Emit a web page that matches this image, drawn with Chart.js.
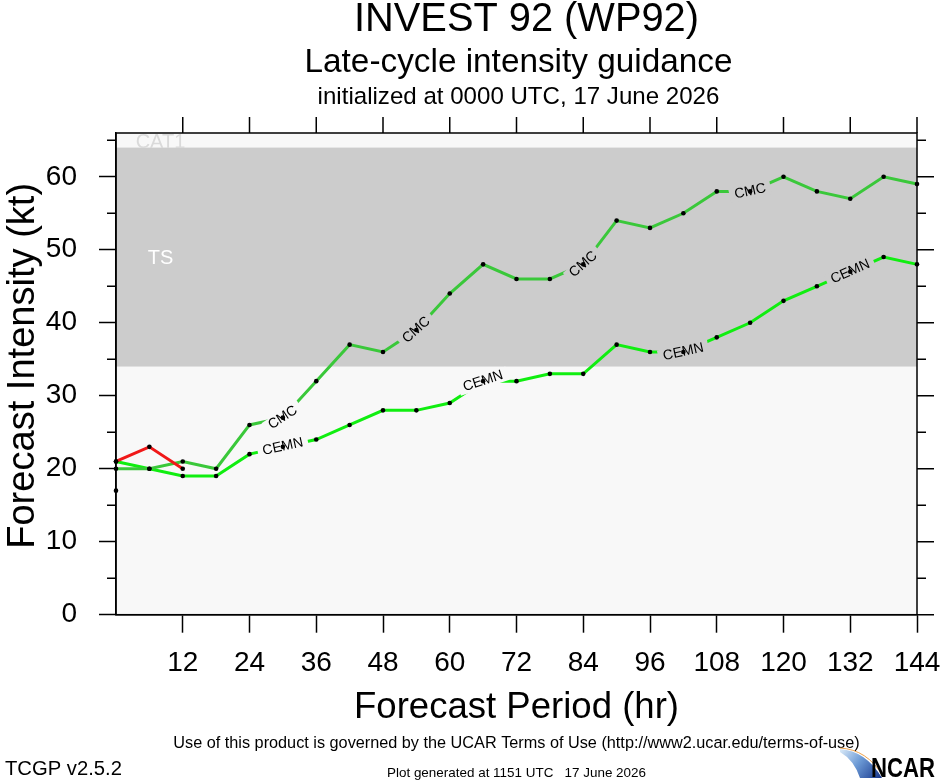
<!DOCTYPE html>
<html>
<head>
<meta charset="utf-8">
<title>INVEST 92 (WP92) - Late-cycle intensity guidance</title>
<script src="https://cdn.jsdelivr.net/npm/chart.js@4.4.1/dist/chart.umd.min.js"></script>
<style>
  html, body { margin: 0; padding: 0; background: #ffffff; }
  #wrap { width: 940px; height: 780px; }
</style>
</head>
<body>
<div id="wrap"><canvas id="intensityChart" width="940" height="780"></canvas></div>
<script>
// forecast hours and model intensities (kt)
const forecastHours = [0, 6, 12, 18, 24, 30, 36, 42, 48, 54, 60, 66, 72, 78, 84, 90, 96, 102, 108, 114, 120, 126, 132, 138, 144];
const cmcValues  = [20, 20, 21, 20, 26, 27, 32, 37, 36, 39, 44, 48, 46, 46, 48, 54, 53, 55, 58, 58, 60, 58, 57, 60, 59];
const cemnValues = [21, 20, 19, 19, 22, 23, 24, 26, 28, 28, 29, 32, 32, 33, 33, 37, 36, 36, 38, 40, 43, 45, 47, 49, 48];
const redHours  = [0, 6, 12];
const redValues = [21, 23, 20];
const initHours  = [0];
const initValues = [17];

// where the inline model names sit
const cmcLabelHours  = [30, 54, 84, 114];
const cemnLabelHours = [30, 66, 102, 132];

// axes
const xTickValues = [12, 24, 36, 48, 60, 72, 84, 96, 108, 120, 132, 144];
const yTickValues = [0, 10, 20, 30, 40, 50, 60];
const yMinorTicks = [5, 15, 25, 35, 45, 55, 65];

// intensity categories (kt)
const categoryLimits = [34, 64];
const categoryNames = ["TS", "CAT1"];

const FAMILY = '"Liberation Sans", Arial, Helvetica, sans-serif';
Chart.defaults.font.family = FAMILY;
Chart.defaults.color = "#000";

function toPoints(xs, ys) {
  return xs.map((x, i) => ({ x: x, y: ys[i] }));
}

// font size that makes text fill a given width
function fitSize(ctx, text, width, weight) {
  ctx.font = (weight || "normal") + " 100px " + FAMILY;
  return (100 * width) / ctx.measureText(text).width;
}

function drawFitted(ctx, text, x, y, width, align, weight) {
  const size = fitSize(ctx, text, width, weight);
  ctx.font = (weight || "normal") + " " + size.toFixed(2) + "px " + FAMILY;
  ctx.textAlign = align || "center";
  ctx.textBaseline = "alphabetic";
  ctx.fillText(text, x, y);
}

const guidancePlugin = {
  id: "guidance",
  beforeDraw(chart) {
    const { ctx, chartArea: a, scales } = chart;
    const ys = scales.y, xs = scales.x;
    ctx.save();
    ctx.fillStyle = "#ffffff";
    ctx.fillRect(0, 0, chart.width, chart.height);
    ctx.fillStyle = "#f8f8f8";
    ctx.fillRect(a.left, a.top, a.right - a.left, a.bottom - a.top);
    const yLo = ys.getPixelForValue(categoryLimits[0]);
    const yHi = ys.getPixelForValue(categoryLimits[1]);
    ctx.fillStyle = "#cccccc";
    ctx.fillRect(a.left, yHi, a.right - a.left, yLo - yHi);

    ctx.beginPath();
    ctx.rect(a.left, a.top, a.right - a.left, a.bottom - a.top);
    ctx.clip();
    ctx.font = "20px " + FAMILY;
    ctx.textAlign = "center";
    ctx.textBaseline = "alphabetic";
    ctx.fillStyle = "#ffffff";
    ctx.fillText(categoryNames[0], xs.getPixelForValue(8), ys.getPixelForValue(48));
    ctx.fillStyle = "#dadada";
    ctx.fillText(categoryNames[1], xs.getPixelForValue(8), ys.getPixelForValue(64) + 0.5);
    ctx.restore();
  },
  afterDatasetsDraw(chart) {
    const { ctx } = chart;
    const labelled = [
      { index: 1, name: "CMC", hours: cmcLabelHours, values: cmcValues },
      { index: 2, name: "CEMN", hours: cemnLabelHours, values: cemnValues },
    ];
    ctx.save();
    ctx.font = "14px " + FAMILY;
    ctx.textAlign = "center";
    ctx.textBaseline = "middle";
    labelled.forEach((set) => {
      const pts = chart.getDatasetMeta(set.index).data;
      set.hours.forEach((h) => {
        const i = forecastHours.indexOf(h);
        const p = pts[i], prev = pts[i - 1], next = pts[i + 1];
        const angle = Math.atan2(next.y - prev.y, next.x - prev.x);
        const v = set.values[i];
        const inBand = v >= categoryLimits[0] && v < categoryLimits[1];
        const w = ctx.measureText(set.name).width + 10;
        ctx.save();
        ctx.translate(p.x, p.y);
        ctx.rotate(angle);
        ctx.fillStyle = inBand ? "#cccccc" : "#f8f8f8";
        ctx.fillRect(-w / 2, -7, w, 14);
        ctx.fillStyle = "#000";
        ctx.fillText(set.name, 0, 0);
        ctx.restore();
      });
    });
    // black dots on every forecast point
    ctx.fillStyle = "#000";
    chart.data.datasets.forEach((ds, di) => {
      chart.getDatasetMeta(di).data.forEach((p) => {
        ctx.beginPath();
        ctx.arc(p.x, p.y, 2.3, 0, Math.PI * 2);
        ctx.fill();
      });
    });
    ctx.restore();
  },
  afterDraw(chart) {
    const { ctx, chartArea: a, scales } = chart;
    const xs = scales.x, ys = scales.y;
    const cx = (a.left + a.right) / 2;
    ctx.save();
    ctx.strokeStyle = "#000";
    ctx.lineWidth = 1.5;
    ctx.strokeRect(a.left, a.top, a.right - a.left, a.bottom - a.top);

    ctx.beginPath();
    xTickValues.forEach((v) => {
      const x = xs.getPixelForValue(v);
      ctx.moveTo(x, a.top);
      ctx.lineTo(x, a.top - 16);
    });
    yMinorTicks.forEach((v) => {
      const y = ys.getPixelForValue(v);
      ctx.moveTo(a.left, y);
      ctx.lineTo(a.left - 9, y);
      ctx.moveTo(a.right, y);
      ctx.lineTo(a.right + 9, y);
    });
    yTickValues.forEach((v) => {
      const y = ys.getPixelForValue(v);
      ctx.moveTo(a.right, y);
      ctx.lineTo(a.right + 17, y);
    });
    ctx.stroke();

    ctx.fillStyle = "#000";
    drawFitted(ctx, "INVEST 92 (WP92)", cx + 10, 31, 345);
    drawFitted(ctx, "Late-cycle intensity guidance", cx + 2, 72, 428);
    drawFitted(ctx, "initialized at 0000 UTC, 17 June 2026", cx + 2, 104, 402);
    drawFitted(ctx, "Forecast Period (hr)", cx, 718, 325);
    drawFitted(ctx, "Use of this product is governed by the UCAR Terms of Use (http://www2.ucar.edu/terms-of-use)", cx, 748, 687);
    drawFitted(ctx, "TCGP v2.5.2", 5, 775, 117, "left");
    drawFitted(ctx, "Plot generated at 1151 UTC   17 June 2026", cx, 777, 259);

    ctx.save();
    ctx.translate(34, (a.top + a.bottom) / 2 - 8);
    ctx.rotate(-Math.PI / 2);
    drawFitted(ctx, "Forecast Intensity (kt)", 0, 0, 366);
    ctx.restore();

    // NCAR mark
    const g = ctx.createLinearGradient(842, 748, 880, 778);
    g.addColorStop(0, "#d8e8f7");
    g.addColorStop(0.45, "#6d9bd6");
    g.addColorStop(1, "#1a3a8f");
    ctx.fillStyle = g;
    ctx.beginPath();
    ctx.moveTo(840, 749);
    ctx.quadraticCurveTo(866, 751, 882, 778);
    ctx.lineTo(860, 778);
    ctx.quadraticCurveTo(854, 760, 840, 752);
    ctx.closePath();
    ctx.fill();
    ctx.strokeStyle = "#f0a24a";
    ctx.lineWidth = 1;
    ctx.beginPath();
    ctx.moveTo(840, 748);
    ctx.quadraticCurveTo(867, 749.5, 883, 776);
    ctx.stroke();
    ctx.fillStyle = "#000";
    ctx.save();
    ctx.translate(871, 777);
    ctx.scale(0.82, 1);
    ctx.font = "bold 27px " + FAMILY;
    ctx.textAlign = "left";
    ctx.fillText("NCAR", 0, 0);
    ctx.restore();
    ctx.restore();
  },
};

const lineStyle = {
  borderWidth: 3,
  pointRadius: 0,
  pointHoverRadius: 0,
  tension: 0,
  fill: false,
  clip: false,
};

new Chart(document.getElementById("intensityChart"), {
  type: "line",
  data: {
    datasets: [
      Object.assign({ label: "early", data: toPoints(redHours, redValues), borderColor: "rgb(240,24,24)" }, lineStyle),
      Object.assign({ label: "CMC", data: toPoints(forecastHours, cmcValues), borderColor: "rgb(58,200,58)" }, lineStyle),
      Object.assign({ label: "CEMN", data: toPoints(forecastHours, cemnValues), borderColor: "rgb(16,238,16)" }, lineStyle),
      Object.assign({ label: "initial", data: toPoints(initHours, initValues), borderColor: "rgba(0,0,0,0)", showLine: false }, lineStyle),
    ],
  },
  options: {
    responsive: false,
    animation: false,
    events: [],
    layout: { padding: { top: 133, right: 23, left: 0, bottom: 0 } },
    plugins: {
      legend: { display: false },
      tooltip: { enabled: false },
      title: { display: false },
    },
    scales: {
      x: {
        type: "linear",
        position: "bottom",
        min: 0,
        max: 144,
        afterBuildTicks: (s) => { s.ticks = xTickValues.map((v) => ({ value: v })); },
        afterFit: (s) => { s.height = 165.3; s.paddingLeft = 0; s.paddingRight = 0; },
        ticks: { font: { size: 28 }, color: "#000", padding: 14, maxRotation: 0, autoSkip: false },
        grid: { drawOnChartArea: false, tickLength: 18, tickColor: "#000", tickWidth: 1.5 },
        border: { display: true, color: "#000", width: 1.5 },
      },
      y: {
        min: 0,
        max: 66,
        afterBuildTicks: (s) => { s.ticks = yTickValues.map((v) => ({ value: v })); },
        afterFit: (s) => { s.width = 116; s.paddingTop = 0; s.paddingBottom = 0; },
        ticks: { font: { size: 28 }, color: "#000", padding: 22 },
        grid: { drawOnChartArea: false, tickLength: 17, tickColor: "#000", tickWidth: 1.5 },
        border: { display: true, color: "#000", width: 1.5 },
      },
    },
  },
  plugins: [guidancePlugin],
});
</script>
</body>
</html>
